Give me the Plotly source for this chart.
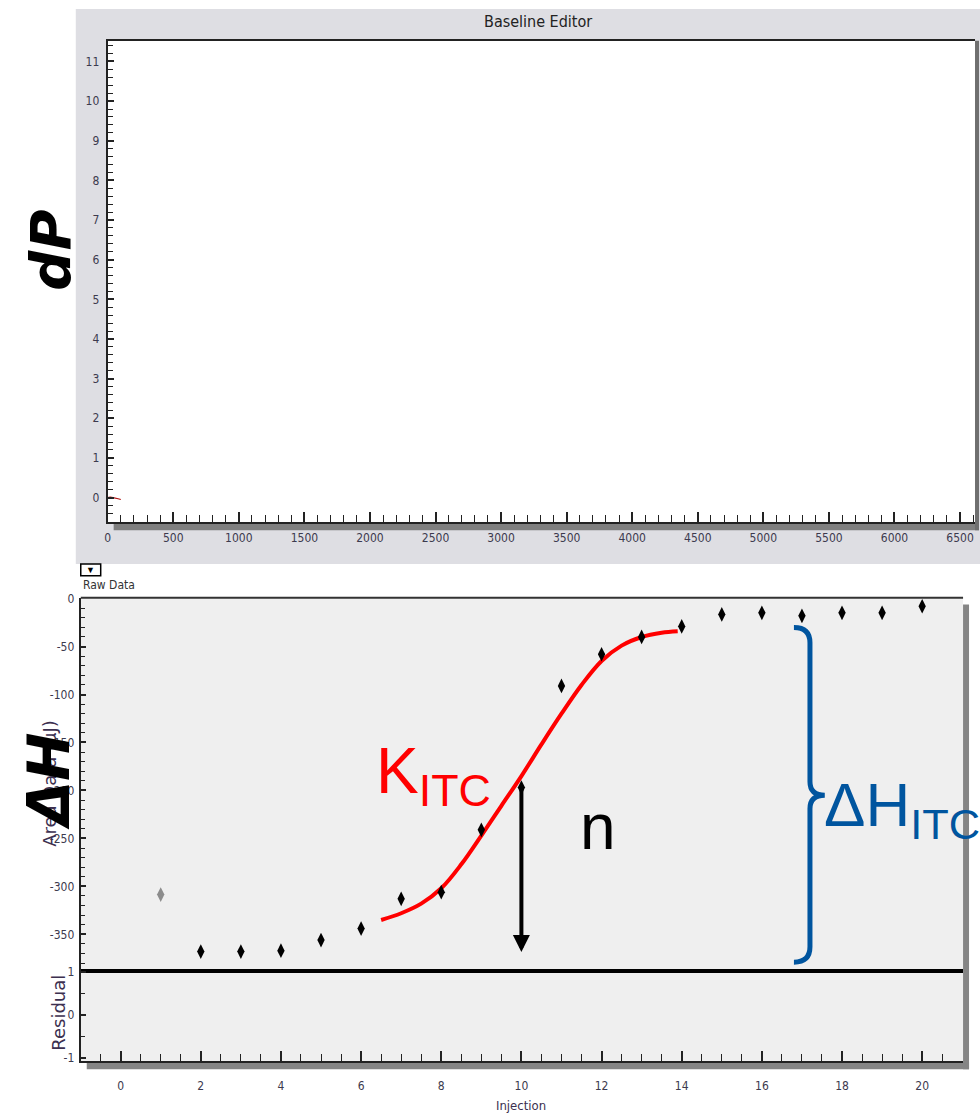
import plotly.graph_objects as go

W, H = 980, 1114

# ---------------- data ----------------
# Baseline editor (raw dP trace, only the very start is recorded)
time_s = [0, 20, 40, 60, 80, 100]
dp_values = [0.0, 0.01, 0.0, -0.01, -0.03, -0.05]

# Integrated injection areas
injection = [2, 3, 4, 5, 6, 7, 8, 9, 10, 11, 12, 13, 14, 15, 16, 17, 18, 19, 20]
area_uj = [-368, -368, -367, -356, -344, -313, -306, -241, -197, -91, -58, -40,
           -29, -16.5, -14.8, -18, -14.8, -14.8, -8]
excluded_injection = [1]
excluded_area = [-308.5]

# Fitted binding isotherm
fit_injection = [6.5, 7, 7.5, 8, 8.5, 9, 9.5, 10, 10.5, 11, 11.5, 12, 12.5, 13, 13.5, 13.9]
fit_area = [-335, -328, -318, -302, -277, -247, -216, -185, -152, -120, -90, -65,
            -49, -40, -35.5, -34]

# Annotation anchors (data units)
n_injection = 10
n_top, n_bottom = -197, -368.5
brace_injection = 17.2
brace_top, brace_mid, brace_bottom = -30, -205, -379

# Tick labels
top_x_ticks = list(range(0, 7000, 500))
top_y_ticks = list(range(0, 12))
area_ticks = [0, -50, -100, -150, -200, -250, -300, -350]
area_labels = ["0", "-50", "-100", "-150", "-200", "-250", "-300", "-350"]
resid_ticks = [1, 0, -1]
resid_labels = ["1", "0", "-1"]
inj_ticks = list(range(0, 21, 2))

# ---------------- helpers ----------------
def fx(x):
    return x / W


def fy(y):
    return 1 - y / H


NARROW = "Liberation Sans Narrow, DejaVu Sans Condensed, Arial Narrow, sans-serif"
SANS = "Liberation Sans, Arial, sans-serif"
WIDE = "DejaVu Sans, Verdana, sans-serif"
TICKC = "#3c3a4e"
BLUE = "#00559f"

fig = go.Figure()

fig.add_trace(go.Scatter(x=time_s, y=dp_values, mode="lines",
                         line=dict(color="#b01010", width=1.2),
                         xaxis="x", yaxis="y", showlegend=False))

fig.add_trace(go.Scatter(x=fit_injection, y=fit_area, mode="lines",
                         line=dict(color="#ff0000", width=4, shape="spline", smoothing=1.0),
                         xaxis="x2", yaxis="y2", showlegend=False))

fig.add_trace(go.Scatter(x=injection, y=area_uj, mode="markers",
                         marker=dict(symbol="diamond-tall", size=10.5, color="black"),
                         xaxis="x2", yaxis="y2", showlegend=False))

fig.add_trace(go.Scatter(x=excluded_injection, y=excluded_area, mode="markers",
                         marker=dict(symbol="diamond-tall", size=10.5, color="#8c8c8c"),
                         xaxis="x2", yaxis="y2", showlegend=False))

# empty residual plot
fig.add_trace(go.Scatter(x=[None], y=[None], mode="markers",
                         xaxis="x3", yaxis="y3", showlegend=False))

tickfont = dict(family=NARROW, size=12, color=TICKC)

fig.update_layout(
    width=W, height=H,
    margin=dict(l=0, r=0, t=0, b=0),
    paper_bgcolor="white",
    plot_bgcolor="rgba(0,0,0,0)",
    showlegend=False,
    xaxis=dict(domain=[fx(105), fx(975)], range=[0, 6614], anchor="y",
               tickvals=top_x_ticks, ticktext=[str(v) for v in top_x_ticks],
               ticks="inside", ticklen=10, tickwidth=1.5, tickcolor="#222",
               minor=dict(dtick=100, tick0=0, ticks="inside", ticklen=7,
                          tickwidth=1, tickcolor="#222"),
               showline=True, linewidth=2, linecolor="#222", mirror=True,
               showgrid=False, zeroline=False, tickfont=tickfont,
               ticklabelstandoff=3),
    yaxis=dict(domain=[fy(521), fy(35)], range=[-0.625, 11.525], anchor="x",
               tickvals=top_y_ticks, ticktext=[str(v) for v in top_y_ticks],
               ticks="inside", ticklen=6, tickwidth=1.5, tickcolor="#222",
               minor=dict(dtick=0.2, tick0=0, ticks="inside", ticklen=5,
                          tickwidth=1, tickcolor="#222"),
               showline=True, linewidth=2, linecolor="#222",
               showgrid=False, zeroline=False, tickfont=tickfont,
               ticklabelstandoff=4),
    xaxis2=dict(domain=[fx(78), fx(963)], range=[-0.995, 21.02], anchor="y2",
                showticklabels=False, ticks="", showline=True, linewidth=4,
                linecolor="black", showgrid=False, zeroline=False),
    yaxis2=dict(domain=[fy(972), fy(597)], range=[-386.4, 1.0], anchor="x2",
                tickvals=area_ticks, ticktext=area_labels,
                ticks="inside", ticklen=5, tickwidth=1.5, tickcolor="#222",
                minor=dict(dtick=10, tick0=0, ticks="inside", ticklen=4,
                           tickwidth=1, tickcolor="#222"),
                showline=True, linewidth=2, linecolor="#222",
                showgrid=False, zeroline=False, tickfont=tickfont,
                ticklabelstandoff=2),
    xaxis3=dict(domain=[fx(78), fx(963)], range=[-0.995, 21.02], anchor="y3",
                tickvals=inj_ticks, ticktext=[str(v) for v in inj_ticks],
                ticks="inside", ticklen=10, tickwidth=1.5, tickcolor="#222",
                minor=dict(dtick=0.5, tick0=0, ticks="inside", ticklen=7,
                           tickwidth=1, tickcolor="#222"),
                showline=True, linewidth=2, linecolor="#222",
                showgrid=False, zeroline=False, tickfont=tickfont,
                ticklabelstandoff=12),
    yaxis3=dict(domain=[fy(1065), fy(972)], range=[-1.08, 1.07], anchor="x3",
                tickvals=resid_ticks, ticktext=resid_labels,
                ticks="inside", ticklen=5, tickwidth=1.5, tickcolor="#222",
                minor=dict(dtick=0.5, tick0=0, ticks="inside", ticklen=4,
                           tickwidth=1, tickcolor="#222"),
                showline=True, linewidth=2, linecolor="#222",
                showgrid=False, zeroline=False, tickfont=tickfont,
                ticklabelstandoff=2),
)


def prect(x0, y0, x1, y1, fill, line=None):
    fig.add_shape(type="rect", xref="paper", yref="paper",
                  x0=fx(x0), x1=fx(x1), y0=fy(y1), y1=fy(y0),
                  fillcolor=fill, line=line or dict(width=0), layer="below")


# panel backgrounds and shadows
prect(73, 3, 980, 563, "#dedee3")
prect(105, 35, 975, 521, "white")
prect(111, 521, 979, 529, "#7f7f7f")
prect(975, 35, 979, 529, "#6f6f6f")
prect(78, 597, 963, 1065, "#efefef")
prect(963, 604, 969, 1073, "#858585")
prect(84, 1065, 969, 1073, "#858585")
prect(78, 563, 98, 575, "white", dict(color="black", width=1.5))
fig.add_shape(type="line", xref="paper", yref="paper", x0=fx(78), x1=fx(963),
              y0=fy(597), y1=fy(597), line=dict(color="#333", width=2))

# ΔH brace (data coords)
bx = brace_injection
path = (f"M {bx-0.4},{brace_top} Q {bx},{brace_top} {bx},{brace_top-16} "
        f"L {bx},{brace_mid+14} Q {bx},{brace_mid} {bx+0.37},{brace_mid} "
        f"Q {bx},{brace_mid} {bx},{brace_mid-14} "
        f"L {bx},{brace_bottom+16} Q {bx},{brace_bottom} {bx-0.4},{brace_bottom}")
fig.add_shape(type="path", xref="x2", yref="y2", path=path,
              line=dict(color=BLUE, width=5))


def pann(text, x, y, size, color="black", family=SANS, xanchor="center",
         yanchor="middle", angle=0):
    fig.add_annotation(text=text, xref="paper", yref="paper", x=fx(x), y=fy(y),
                       showarrow=False, xanchor=xanchor, yanchor=yanchor,
                       textangle=angle, font=dict(size=size, color=color, family=family))


pann("Baseline Editor", 537, 16, 16, "#222", NARROW)
pann("▼", 88, 569, 9, "black", SANS)
pann("Raw Data", 78, 584, 12, "#333", NARROW, xanchor="left")
pann("<b><i>dP</i></b>", 48, 246, 56, "black", WIDE, angle=-90)
pann("Area Data (µJ)", 47, 784, 18, "#3c3050", "DejaVu Sans", angle=-90)
pann("<b><i>ΔH</i></b>", 46, 782, 58, "black", WIDE, angle=-90)
pann("Residual", 56, 1016, 18, "#3c3050", "DejaVu Sans", angle=-90)
pann("Injection", 520, 1109, 13, "#3c3050", NARROW)

pann("K<sub>ITC</sub>", 372, 776, 64, "#ff0000", SANS, xanchor="left")
pann("n", 597, 828, 64, "black", SANS)
pann("ΔH<sub>ITC</sub>", 822, 810, 62, BLUE, SANS, xanchor="left")

# n arrow
fig.add_annotation(x=n_injection, y=n_bottom, ax=n_injection, ay=n_top,
                   xref="x2", yref="y2", axref="x2", ayref="y2",
                   showarrow=True, arrowhead=2, arrowsize=0.85, arrowwidth=4,
                   arrowcolor="black", text="")

fig.write_html("out.html",
               config={"displayModeBar": False},
               post_script="document.body.style.margin='0';"
                           "document.body.style.overflow='hidden';")
